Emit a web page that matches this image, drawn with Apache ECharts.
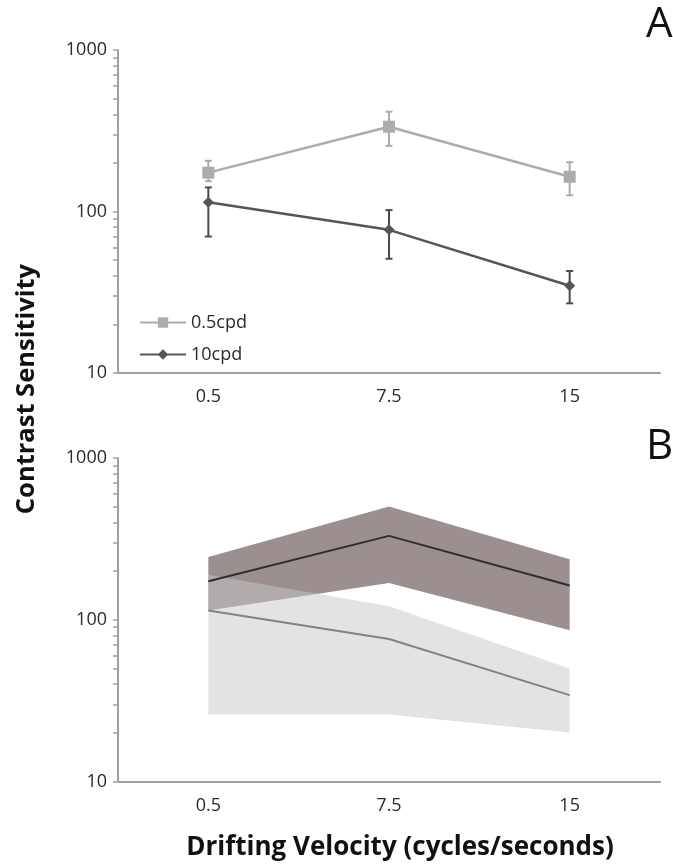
<!DOCTYPE html>
<html>
<head>
<meta charset="utf-8">
<script src="https://cdn.jsdelivr.net/npm/echarts@6/dist/echarts.min.js"></script>
<style>
  html, body { margin: 0; padding: 0; background: #fff; }
  #chart { width: 673px; height: 867px; }
</style>
</head>
<body>
<div id="chart"></div>
<script>
// categories (drifting velocity, cycles/s)
const velocities = ['0.5', '7.5', '15'];

// panel A: means and error bar ends
const low_mean = [174, 335, 164];     // 0.5cpd
const low_errLo = [154, 255, 126];
const low_errHi = [206, 415, 202];
const high_mean = [114, 77, 34.7];    // 10cpd
const high_errLo = [70, 51, 27];
const high_errHi = [141, 102, 42.8];

// panel B: means and shaded ranges
const bandLow_mean = [173, 330, 163];
const bandLow_lo = [114, 169, 86];
const bandLow_hi = [244, 502, 237];
const bandHigh_mean = [114, 76, 34.2];
const bandHigh_lo = [26, 26, 20.1];
const bandHigh_hi = [190, 121, 50];

const yMajor = [10, 100, 1000];
const yMinor = [10, 20, 30, 40, 50, 60, 70, 80, 90, 100, 200, 300, 400, 500, 600, 700, 800, 900, 1000];

const FONT = '"Open Sans", sans-serif';
const axisGray = '#a0a0a0';

function rows(lo, hi) {
  return velocities.map((v, i) => [i, lo[i], hi[i]]);
}

// vertical error bar with caps
function renderErrorBar(color) {
  return function (params, api) {
    const x = api.value(0);
    const lo = api.coord([x, api.value(1)]);
    const hi = api.coord([x, api.value(2)]);
    const w = 3.5;
    const style = { stroke: color, lineWidth: 2 };
    return {
      type: 'group',
      children: [
        { type: 'line', shape: { x1: lo[0], y1: lo[1], x2: hi[0], y2: hi[1] }, style: style },
        { type: 'line', shape: { x1: hi[0] - w, y1: hi[1], x2: hi[0] + w, y2: hi[1] }, style: style },
        { type: 'line', shape: { x1: lo[0] - w, y1: lo[1], x2: lo[0] + w, y2: lo[1] }, style: style }
      ]
    };
  };
}

// one filled polygon through all the range points
function renderBand(fill) {
  return function (params, api) {
    if (params.dataIndexInside !== 0) return null;
    const n = params.dataInsideLength;
    const top = [], bottom = [];
    for (let i = 0; i < n; i++) {
      const x = api.value(0, i);
      top.push(api.coord([x, api.value(2, i)]));
      bottom.unshift(api.coord([x, api.value(1, i)]));
    }
    return { type: 'polygon', shape: { points: top.concat(bottom) }, style: { fill: fill } };
  };
}

function makeX(gridIndex) {
  return {
    type: 'category',
    gridIndex: gridIndex,
    data: velocities,
    boundaryGap: true,
    axisLine: { lineStyle: { color: axisGray, width: 2 } },
    axisTick: { show: false },
    axisLabel: { color: '#2a2a2a', fontSize: 18, fontFamily: FONT, margin: 15 },
    splitLine: { show: false }
  };
}

function makeY(gridIndex) {
  return {
    type: 'log',
    logBase: 10,
    gridIndex: gridIndex,
    min: 10,
    max: 1000,
    axisLine: { show: true, lineStyle: { color: axisGray, width: 2 } },
    axisTick: { show: true, inside: false, length: 5, customValues: yMinor, lineStyle: { color: axisGray, width: 1.5 } },
    axisLabel: { color: '#2a2a2a', fontSize: 18, fontFamily: FONT, margin: 11, customValues: yMajor,
      formatter: v => String(Math.round(v)) },
    splitLine: { show: false },
    minorTick: { show: false }
  };
}

const chart = echarts.init(document.getElementById('chart'));

chart.setOption({
  animation: false,
  backgroundColor: '#fff',
  grid: [
    { left: 118, right: 13, top: 50, height: 323 },
    { left: 118, right: 13, top: 458, height: 323.5 }
  ],
  xAxis: [makeX(0), makeX(1)],
  yAxis: [makeY(0), makeY(1)],
  legend: {
    data: ['0.5cpd', '10cpd'],
    orient: 'vertical',
    left: 134,
    top: 307,
    itemWidth: 46,
    itemHeight: 13,
    itemGap: 11,
    textStyle: { color: '#2a2a2a', fontSize: 18, fontFamily: FONT, lineHeight: 21 }
  },
  graphic: [
    {
      type: 'text', left: 646, top: 4,
      style: { text: 'A', fontSize: 42, fontFamily: FONT, fill: '#111' }
    },
    {
      type: 'text', left: 646, top: 426,
      style: { text: 'B', fontSize: 42, fontFamily: FONT, fill: '#111' }
    },
    {
      type: 'text', x: 27, y: 389, rotation: Math.PI / 2,
      style: { text: 'Contrast Sensitivity', fontSize: 25.5, fontWeight: 'bold', fontFamily: FONT,
        fill: '#111', align: 'center', verticalAlign: 'middle' }
    },
    {
      type: 'text', x: 400, y: 848,
      style: { text: 'Drifting Velocity (cycles/seconds)', fontSize: 26, fontWeight: 'bold', fontFamily: FONT,
        fill: '#111', align: 'center', verticalAlign: 'middle' }
    }
  ],
  series: [
    // panel A
    {
      name: '0.5cpd', type: 'line', xAxisIndex: 0, yAxisIndex: 0,
      data: low_mean, symbol: 'rect', symbolSize: 12,
      itemStyle: { color: '#acacac' }, lineStyle: { color: '#acacac', width: 2.5 }, z: 3
    },
    {
      name: '10cpd', type: 'line', xAxisIndex: 0, yAxisIndex: 0,
      data: high_mean, symbol: 'diamond', symbolSize: 11,
      itemStyle: { color: '#555' }, lineStyle: { color: '#555', width: 2.5 }, z: 3
    },
    {
      type: 'custom', xAxisIndex: 0, yAxisIndex: 0, renderItem: renderErrorBar('#acacac'),
      data: rows(low_errLo, low_errHi), encode: { x: 0, y: [1, 2] }, z: 2
    },
    {
      type: 'custom', xAxisIndex: 0, yAxisIndex: 0, renderItem: renderErrorBar('#4a4a4a'),
      data: rows(high_errLo, high_errHi), encode: { x: 0, y: [1, 2] }, z: 2
    },
    // panel B
    {
      type: 'custom', xAxisIndex: 1, yAxisIndex: 1, renderItem: renderBand('#9b8f90'),
      data: rows(bandLow_lo, bandLow_hi), encode: { x: 0, y: [1, 2] }, z: 1
    },
    {
      type: 'custom', xAxisIndex: 1, yAxisIndex: 1, renderItem: renderBand('rgba(199,200,200,0.5)'),
      data: rows(bandHigh_lo, bandHigh_hi), encode: { x: 0, y: [1, 2] }, z: 1
    },
    {
      type: 'line', xAxisIndex: 1, yAxisIndex: 1, data: bandLow_mean,
      symbol: 'none', lineStyle: { color: '#2e2e2e', width: 2 }, z: 3
    },
    {
      type: 'line', xAxisIndex: 1, yAxisIndex: 1, data: bandHigh_mean,
      symbol: 'none', lineStyle: { color: '#8a7f80', width: 2 }, z: 3
    }
  ]
});
</script>
</body>
</html>
